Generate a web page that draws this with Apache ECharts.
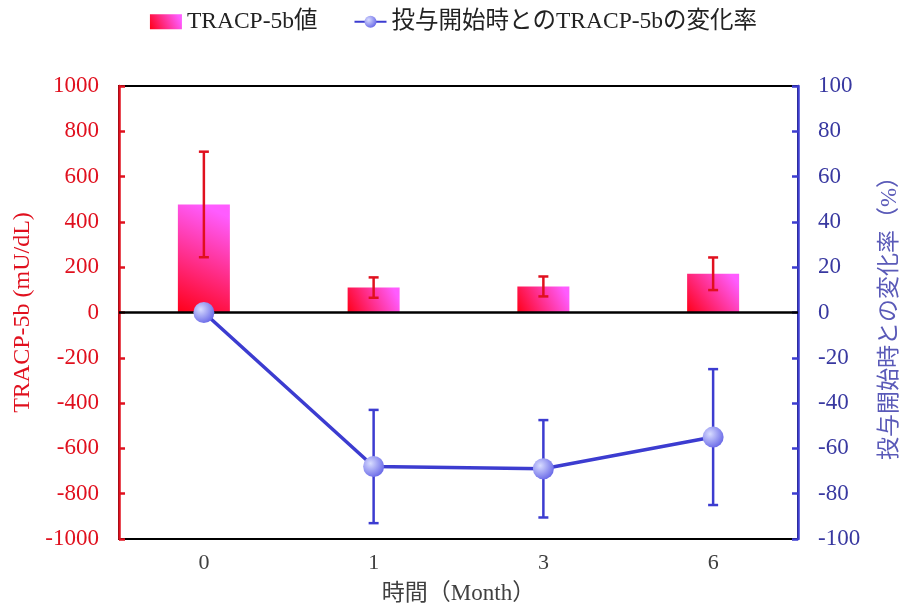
<!DOCTYPE html>
<html><head><meta charset="utf-8">
<script src="https://cdn.jsdelivr.net/npm/echarts@6/dist/echarts.min.js"></script>
<style>html,body{margin:0;padding:0;background:#fff}#c{width:907px;height:608px}</style>
</head><body><div id="c"></div>
<script>
var categories = ['0', '1', '3', '6'];
var barValues = [477, 110, 115, 171];
var barErr = [233, 45, 44, 72];
var rateValues = [0, -68, -69, -55];
var rateErr = [0, 25, 21.5, 30];
var leftTicks = [-1000, 1000, 200];
var rightTicks = [-100, 100, 20];

var FONT = '"Liberation Serif", "Noto Sans CJK JP", serif';
var RED = '#e0101e';
var BLUE = '#3c3cd0';

function errRender(color) {
  return function (params, api) {
    var i = api.value(0);
    var v = api.value(1), e = api.value(2);
    if (!e) return null;
    var top = api.coord([i, v + e]);
    var bot = api.coord([i, v - e]);
    var w = 5;
    var st = { stroke: color, lineWidth: 2.5 };
    return {
      type: 'group',
      children: [
        { type: 'line', shape: { x1: top[0], y1: top[1], x2: bot[0], y2: bot[1] }, style: st },
        { type: 'line', shape: { x1: top[0] - w, y1: top[1], x2: top[0] + w, y2: top[1] }, style: st },
        { type: 'line', shape: { x1: bot[0] - w, y1: bot[1], x2: bot[0] + w, y2: bot[1] }, style: st }
      ]
    };
  };
}

var chart = echarts.init(document.getElementById('c'));
var barGrad = new echarts.graphic.LinearGradient(0, 1, 0.9, 0.1, [
  { offset: 0, color: '#ff0018' },
  { offset: 1, color: '#ff5cff' }
]);
var dotGrad = new echarts.graphic.RadialGradient(0.35, 0.35, 0.7, [
  { offset: 0, color: '#d8dcff' },
  { offset: 1, color: '#6a6ae8' }
]);
var plain = function (v) { return String(v); };

chart.setOption({
  animation: false,
  textStyle: { fontFamily: FONT },
  legend: {
    top: 5, left: 'center', itemGap: 36, itemWidth: 32, itemHeight: 15,
    textStyle: { fontFamily: FONT, fontSize: 23.5, color: '#222' },
    data: [
      { name: 'TRACP-5b値', icon: 'rect' },
      { name: '投与開始時とのTRACP-5bの変化率' }
    ]
  },
  grid: { left: 119, right: 109, top: 86, bottom: 69, show: true, borderColor: '#000', borderWidth: 2, containLabel: false, outerBoundsMode: 'none' },
  xAxis: {
    type: 'category', data: categories,
    axisLine: { show: false }, axisTick: { show: false },
    axisLabel: { fontFamily: FONT, fontSize: 22, color: '#404040', margin: 13 },
    name: '時間（Month）', nameLocation: 'middle', nameGap: 43,
    nameTextStyle: { fontFamily: FONT, fontSize: 23, color: '#404040' }
  },
  yAxis: [
    {
      type: 'value', min: leftTicks[0], max: leftTicks[1], interval: leftTicks[2],
      position: 'left',
      axisLine: { show: true, lineStyle: { color: RED, width: 2.5 } },
      axisTick: { show: true, inside: true, length: 6, lineStyle: { color: RED, width: 2.5 } },
      axisLabel: { fontFamily: FONT, fontSize: 23, color: RED, margin: 20, formatter: plain },
      splitLine: { show: false },
      name: 'TRACP-5b (mU/dL)', nameLocation: 'middle', nameGap: 82, nameRotate: 90,
      nameTextStyle: { fontFamily: FONT, fontSize: 24, color: RED }
    },
    {
      type: 'value', min: rightTicks[0], max: rightTicks[1], interval: rightTicks[2],
      position: 'right',
      axisLine: { show: true, lineStyle: { color: BLUE, width: 2.5 } },
      axisTick: { show: true, inside: true, length: 6, lineStyle: { color: BLUE, width: 2.5 } },
      axisLabel: { fontFamily: FONT, fontSize: 23, color: '#3838a0', margin: 20, formatter: plain },
      splitLine: { show: false },
      name: '投与開始時との変化率（%）', nameLocation: 'middle', nameGap: 80, nameRotate: 90,
      nameTextStyle: { fontFamily: FONT, fontSize: 23, color: '#5a5ab8' }
    }
  ],
  series: [
    {
      name: 'TRACP-5b値', type: 'bar', yAxisIndex: 0, barWidth: 52,
      data: barValues, itemStyle: { color: barGrad },
      markLine: {
        silent: true, symbol: 'none', label: { show: false },
        lineStyle: { color: '#000', width: 2.5, type: 'solid' },
        data: [{ yAxis: 0 }]
      },
      z: 2
    },
    {
      type: 'custom', yAxisIndex: 0,
      renderItem: errRender(RED),
      data: categories.map(function (c, i) { return [i, barValues[i], barErr[i]]; }),
      encode: { x: 0, y: 1 }, z: 3, silent: true
    },
    {
      type: 'custom', yAxisIndex: 1,
      renderItem: errRender(BLUE),
      data: categories.map(function (c, i) { return [i, rateValues[i], rateErr[i]]; }),
      encode: { x: 0, y: 1 }, z: 4, silent: true
    },
    {
      name: '投与開始時とのTRACP-5bの変化率', type: 'line', yAxisIndex: 1,
      data: rateValues, symbol: 'circle', symbolSize: 21,
      lineStyle: { color: BLUE, width: 3.5 },
      itemStyle: { color: dotGrad, borderWidth: 0 },
      z: 5
    }
  ]
});
</script></body></html>
